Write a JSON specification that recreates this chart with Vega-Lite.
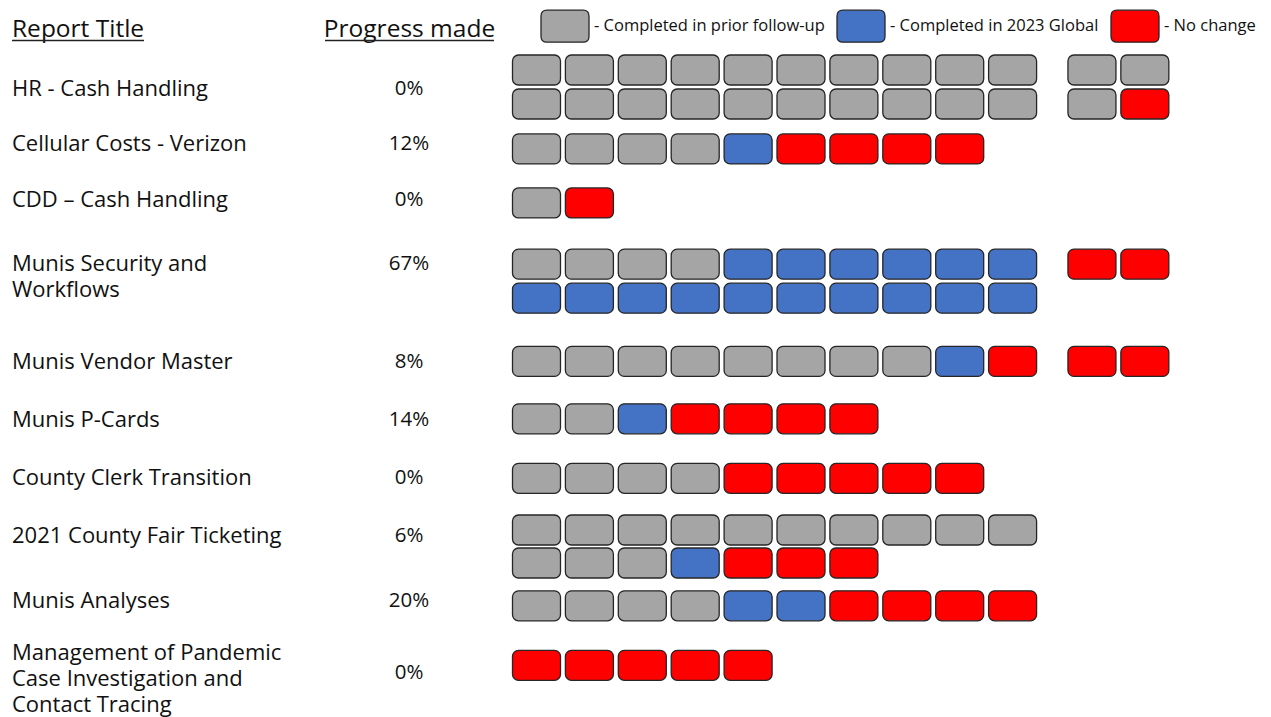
{
  "$schema": "https://vega.github.io/schema/vega-lite/v6.json",
  "width": 1271,
  "height": 717,
  "padding": 0,
  "autosize": {"type": "none"},
  "background": "white",
  "config": {"view": {"stroke": null}, "font": "Open Sans"},
  "datasets": {
    "reports": [
      {"title": "HR - Cash Handling", "progress": "0%", "title_line": 0.56, "pct_line": 0.56},
      {"title": "Cellular Costs - Verizon", "progress": "12%", "title_line": 2.18, "pct_line": 2.18},
      {"title": "CDD – Cash Handling", "progress": "0%", "title_line": 3.82, "pct_line": 3.82},
      {"title": "Munis Security and\nWorkflows", "progress": "67%", "title_line": 5.71, "pct_line": 5.71},
      {"title": "Munis Vendor Master", "progress": "8%", "title_line": 8.59, "pct_line": 8.59},
      {"title": "Munis P-Cards", "progress": "14%", "title_line": 10.29, "pct_line": 10.29},
      {"title": "County Clerk Transition", "progress": "0%", "title_line": 12.0, "pct_line": 12.0},
      {"title": "2021 County Fair Ticketing", "progress": "6%", "title_line": 13.71, "pct_line": 13.71},
      {"title": "Munis Analyses", "progress": "20%", "title_line": 15.62, "pct_line": 15.62},
      {"title": "Management of Pandemic\nCase Investigation and\nContact Tracing", "progress": "0%", "title_line": 17.15, "pct_line": 17.74}
    ],
    "boxes": [
      {"report": "HR - Cash Handling", "line": 0, "slot": 0, "status": "Completed in prior follow-up"},
      {"report": "HR - Cash Handling", "line": 0, "slot": 1, "status": "Completed in prior follow-up"},
      {"report": "HR - Cash Handling", "line": 0, "slot": 2, "status": "Completed in prior follow-up"},
      {"report": "HR - Cash Handling", "line": 0, "slot": 3, "status": "Completed in prior follow-up"},
      {"report": "HR - Cash Handling", "line": 0, "slot": 4, "status": "Completed in prior follow-up"},
      {"report": "HR - Cash Handling", "line": 0, "slot": 5, "status": "Completed in prior follow-up"},
      {"report": "HR - Cash Handling", "line": 0, "slot": 6, "status": "Completed in prior follow-up"},
      {"report": "HR - Cash Handling", "line": 0, "slot": 7, "status": "Completed in prior follow-up"},
      {"report": "HR - Cash Handling", "line": 0, "slot": 8, "status": "Completed in prior follow-up"},
      {"report": "HR - Cash Handling", "line": 0, "slot": 9, "status": "Completed in prior follow-up"},
      {"report": "HR - Cash Handling", "line": 0, "slot": 10.5, "status": "Completed in prior follow-up"},
      {"report": "HR - Cash Handling", "line": 0, "slot": 11.5, "status": "Completed in prior follow-up"},
      {"report": "HR - Cash Handling", "line": 1, "slot": 0, "status": "Completed in prior follow-up"},
      {"report": "HR - Cash Handling", "line": 1, "slot": 1, "status": "Completed in prior follow-up"},
      {"report": "HR - Cash Handling", "line": 1, "slot": 2, "status": "Completed in prior follow-up"},
      {"report": "HR - Cash Handling", "line": 1, "slot": 3, "status": "Completed in prior follow-up"},
      {"report": "HR - Cash Handling", "line": 1, "slot": 4, "status": "Completed in prior follow-up"},
      {"report": "HR - Cash Handling", "line": 1, "slot": 5, "status": "Completed in prior follow-up"},
      {"report": "HR - Cash Handling", "line": 1, "slot": 6, "status": "Completed in prior follow-up"},
      {"report": "HR - Cash Handling", "line": 1, "slot": 7, "status": "Completed in prior follow-up"},
      {"report": "HR - Cash Handling", "line": 1, "slot": 8, "status": "Completed in prior follow-up"},
      {"report": "HR - Cash Handling", "line": 1, "slot": 9, "status": "Completed in prior follow-up"},
      {"report": "HR - Cash Handling", "line": 1, "slot": 10.5, "status": "Completed in prior follow-up"},
      {"report": "HR - Cash Handling", "line": 1, "slot": 11.5, "status": "No change"},
      {"report": "Cellular Costs - Verizon", "line": 2.32, "slot": 0, "status": "Completed in prior follow-up"},
      {"report": "Cellular Costs - Verizon", "line": 2.32, "slot": 1, "status": "Completed in prior follow-up"},
      {"report": "Cellular Costs - Verizon", "line": 2.32, "slot": 2, "status": "Completed in prior follow-up"},
      {"report": "Cellular Costs - Verizon", "line": 2.32, "slot": 3, "status": "Completed in prior follow-up"},
      {"report": "Cellular Costs - Verizon", "line": 2.32, "slot": 4, "status": "Completed in 2023 Global"},
      {"report": "Cellular Costs - Verizon", "line": 2.32, "slot": 5, "status": "No change"},
      {"report": "Cellular Costs - Verizon", "line": 2.32, "slot": 6, "status": "No change"},
      {"report": "Cellular Costs - Verizon", "line": 2.32, "slot": 7, "status": "No change"},
      {"report": "Cellular Costs - Verizon", "line": 2.32, "slot": 8, "status": "No change"},
      {"report": "CDD – Cash Handling", "line": 3.91, "slot": 0, "status": "Completed in prior follow-up"},
      {"report": "CDD – Cash Handling", "line": 3.91, "slot": 1, "status": "No change"},
      {"report": "Munis Security and Workflows", "line": 5.71, "slot": 0, "status": "Completed in prior follow-up"},
      {"report": "Munis Security and Workflows", "line": 5.71, "slot": 1, "status": "Completed in prior follow-up"},
      {"report": "Munis Security and Workflows", "line": 5.71, "slot": 2, "status": "Completed in prior follow-up"},
      {"report": "Munis Security and Workflows", "line": 5.71, "slot": 3, "status": "Completed in prior follow-up"},
      {"report": "Munis Security and Workflows", "line": 5.71, "slot": 4, "status": "Completed in 2023 Global"},
      {"report": "Munis Security and Workflows", "line": 5.71, "slot": 5, "status": "Completed in 2023 Global"},
      {"report": "Munis Security and Workflows", "line": 5.71, "slot": 6, "status": "Completed in 2023 Global"},
      {"report": "Munis Security and Workflows", "line": 5.71, "slot": 7, "status": "Completed in 2023 Global"},
      {"report": "Munis Security and Workflows", "line": 5.71, "slot": 8, "status": "Completed in 2023 Global"},
      {"report": "Munis Security and Workflows", "line": 5.71, "slot": 9, "status": "Completed in 2023 Global"},
      {"report": "Munis Security and Workflows", "line": 5.71, "slot": 10.5, "status": "No change"},
      {"report": "Munis Security and Workflows", "line": 5.71, "slot": 11.5, "status": "No change"},
      {"report": "Munis Security and Workflows", "line": 6.71, "slot": 0, "status": "Completed in 2023 Global"},
      {"report": "Munis Security and Workflows", "line": 6.71, "slot": 1, "status": "Completed in 2023 Global"},
      {"report": "Munis Security and Workflows", "line": 6.71, "slot": 2, "status": "Completed in 2023 Global"},
      {"report": "Munis Security and Workflows", "line": 6.71, "slot": 3, "status": "Completed in 2023 Global"},
      {"report": "Munis Security and Workflows", "line": 6.71, "slot": 4, "status": "Completed in 2023 Global"},
      {"report": "Munis Security and Workflows", "line": 6.71, "slot": 5, "status": "Completed in 2023 Global"},
      {"report": "Munis Security and Workflows", "line": 6.71, "slot": 6, "status": "Completed in 2023 Global"},
      {"report": "Munis Security and Workflows", "line": 6.71, "slot": 7, "status": "Completed in 2023 Global"},
      {"report": "Munis Security and Workflows", "line": 6.71, "slot": 8, "status": "Completed in 2023 Global"},
      {"report": "Munis Security and Workflows", "line": 6.71, "slot": 9, "status": "Completed in 2023 Global"},
      {"report": "Munis Vendor Master", "line": 8.57, "slot": 0, "status": "Completed in prior follow-up"},
      {"report": "Munis Vendor Master", "line": 8.57, "slot": 1, "status": "Completed in prior follow-up"},
      {"report": "Munis Vendor Master", "line": 8.57, "slot": 2, "status": "Completed in prior follow-up"},
      {"report": "Munis Vendor Master", "line": 8.57, "slot": 3, "status": "Completed in prior follow-up"},
      {"report": "Munis Vendor Master", "line": 8.57, "slot": 4, "status": "Completed in prior follow-up"},
      {"report": "Munis Vendor Master", "line": 8.57, "slot": 5, "status": "Completed in prior follow-up"},
      {"report": "Munis Vendor Master", "line": 8.57, "slot": 6, "status": "Completed in prior follow-up"},
      {"report": "Munis Vendor Master", "line": 8.57, "slot": 7, "status": "Completed in prior follow-up"},
      {"report": "Munis Vendor Master", "line": 8.57, "slot": 8, "status": "Completed in 2023 Global"},
      {"report": "Munis Vendor Master", "line": 8.57, "slot": 9, "status": "No change"},
      {"report": "Munis Vendor Master", "line": 8.57, "slot": 10.5, "status": "No change"},
      {"report": "Munis Vendor Master", "line": 8.57, "slot": 11.5, "status": "No change"},
      {"report": "Munis P-Cards", "line": 10.26, "slot": 0, "status": "Completed in prior follow-up"},
      {"report": "Munis P-Cards", "line": 10.26, "slot": 1, "status": "Completed in prior follow-up"},
      {"report": "Munis P-Cards", "line": 10.26, "slot": 2, "status": "Completed in 2023 Global"},
      {"report": "Munis P-Cards", "line": 10.26, "slot": 3, "status": "No change"},
      {"report": "Munis P-Cards", "line": 10.26, "slot": 4, "status": "No change"},
      {"report": "Munis P-Cards", "line": 10.26, "slot": 5, "status": "No change"},
      {"report": "Munis P-Cards", "line": 10.26, "slot": 6, "status": "No change"},
      {"report": "County Clerk Transition", "line": 12.01, "slot": 0, "status": "Completed in prior follow-up"},
      {"report": "County Clerk Transition", "line": 12.01, "slot": 1, "status": "Completed in prior follow-up"},
      {"report": "County Clerk Transition", "line": 12.01, "slot": 2, "status": "Completed in prior follow-up"},
      {"report": "County Clerk Transition", "line": 12.01, "slot": 3, "status": "Completed in prior follow-up"},
      {"report": "County Clerk Transition", "line": 12.01, "slot": 4, "status": "No change"},
      {"report": "County Clerk Transition", "line": 12.01, "slot": 5, "status": "No change"},
      {"report": "County Clerk Transition", "line": 12.01, "slot": 6, "status": "No change"},
      {"report": "County Clerk Transition", "line": 12.01, "slot": 7, "status": "No change"},
      {"report": "County Clerk Transition", "line": 12.01, "slot": 8, "status": "No change"},
      {"report": "2021 County Fair Ticketing", "line": 13.53, "slot": 0, "status": "Completed in prior follow-up"},
      {"report": "2021 County Fair Ticketing", "line": 13.53, "slot": 1, "status": "Completed in prior follow-up"},
      {"report": "2021 County Fair Ticketing", "line": 13.53, "slot": 2, "status": "Completed in prior follow-up"},
      {"report": "2021 County Fair Ticketing", "line": 13.53, "slot": 3, "status": "Completed in prior follow-up"},
      {"report": "2021 County Fair Ticketing", "line": 13.53, "slot": 4, "status": "Completed in prior follow-up"},
      {"report": "2021 County Fair Ticketing", "line": 13.53, "slot": 5, "status": "Completed in prior follow-up"},
      {"report": "2021 County Fair Ticketing", "line": 13.53, "slot": 6, "status": "Completed in prior follow-up"},
      {"report": "2021 County Fair Ticketing", "line": 13.53, "slot": 7, "status": "Completed in prior follow-up"},
      {"report": "2021 County Fair Ticketing", "line": 13.53, "slot": 8, "status": "Completed in prior follow-up"},
      {"report": "2021 County Fair Ticketing", "line": 13.53, "slot": 9, "status": "Completed in prior follow-up"},
      {"report": "2021 County Fair Ticketing", "line": 14.5, "slot": 0, "status": "Completed in prior follow-up"},
      {"report": "2021 County Fair Ticketing", "line": 14.5, "slot": 1, "status": "Completed in prior follow-up"},
      {"report": "2021 County Fair Ticketing", "line": 14.5, "slot": 2, "status": "Completed in prior follow-up"},
      {"report": "2021 County Fair Ticketing", "line": 14.5, "slot": 3, "status": "Completed in 2023 Global"},
      {"report": "2021 County Fair Ticketing", "line": 14.5, "slot": 4, "status": "No change"},
      {"report": "2021 County Fair Ticketing", "line": 14.5, "slot": 5, "status": "No change"},
      {"report": "2021 County Fair Ticketing", "line": 14.5, "slot": 6, "status": "No change"},
      {"report": "Munis Analyses", "line": 15.76, "slot": 0, "status": "Completed in prior follow-up"},
      {"report": "Munis Analyses", "line": 15.76, "slot": 1, "status": "Completed in prior follow-up"},
      {"report": "Munis Analyses", "line": 15.76, "slot": 2, "status": "Completed in prior follow-up"},
      {"report": "Munis Analyses", "line": 15.76, "slot": 3, "status": "Completed in prior follow-up"},
      {"report": "Munis Analyses", "line": 15.76, "slot": 4, "status": "Completed in 2023 Global"},
      {"report": "Munis Analyses", "line": 15.76, "slot": 5, "status": "Completed in 2023 Global"},
      {"report": "Munis Analyses", "line": 15.76, "slot": 6, "status": "No change"},
      {"report": "Munis Analyses", "line": 15.76, "slot": 7, "status": "No change"},
      {"report": "Munis Analyses", "line": 15.76, "slot": 8, "status": "No change"},
      {"report": "Munis Analyses", "line": 15.76, "slot": 9, "status": "No change"},
      {"report": "Management of Pandemic Case Investigation and Contact Tracing", "line": 17.51, "slot": 0, "status": "No change"},
      {"report": "Management of Pandemic Case Investigation and Contact Tracing", "line": 17.51, "slot": 1, "status": "No change"},
      {"report": "Management of Pandemic Case Investigation and Contact Tracing", "line": 17.51, "slot": 2, "status": "No change"},
      {"report": "Management of Pandemic Case Investigation and Contact Tracing", "line": 17.51, "slot": 3, "status": "No change"},
      {"report": "Management of Pandemic Case Investigation and Contact Tracing", "line": 17.51, "slot": 4, "status": "No change"}
    ]
  },
  "layer": [
    {
      "data": {"name": "boxes"},
      "mark": {"type": "rect", "width": 48, "height": 30, "cornerRadius": 6, "stroke": "#262626", "strokeWidth": 1.3},
      "encoding": {
        "x": {"field": "slot", "type": "quantitative", "axis": null, "scale": {"domain": [-10.1418, 13.8847], "nice": false, "zero": false}},
        "y": {"field": "line", "type": "quantitative", "axis": null, "scale": {"domain": [-2.0588, 19.0294], "nice": false, "zero": false, "reverse": true}},
        "color": {
          "field": "status",
          "type": "nominal",
          "scale": {"domain": ["Completed in prior follow-up", "Completed in 2023 Global", "No change"], "range": ["#A5A5A5", "#4472C4", "#FF0000"]},
          "legend": {
            "title": null,
            "orient": "none",
            "direction": "horizontal",
            "legendX": 540,
            "legendY": 1,
            "symbolType": "M-0.75,-0.6667L0.75,-0.6667Q1,-0.6667,1,-0.4167L1,0.4167Q1,0.6667,0.75,0.6667L-0.75,0.6667Q-1,0.6667,-1,0.4167L-1,-0.4167Q-1,-0.6667,-0.75,-0.6667Z",
            "symbolSize": 2304,
            "symbolStrokeColor": "#262626",
            "symbolStrokeWidth": 1.3,
            "symbolOpacity": 1,
            "labelFont": "Open Sans",
            "labelFontSize": 16.5,
            "labelColor": "#111111",
            "labelOffset": 4,
            "labelLimit": 0,
            "columnPadding": 9,
            "labelExpr": "'- ' + datum.label"
          }
        }
      }
    },
    {
      "data": {"name": "reports"},
      "mark": {"type": "text", "align": "left", "baseline": "middle", "font": "Open Sans", "fontSize": 22, "lineBreak": "\n", "lineHeight": 26, "color": "#111111"},
      "encoding": {
        "x": {"datum": -9.915, "type": "quantitative", "scale": {"domain": [-10.1418, 13.8847], "nice": false, "zero": false}},
        "y": {"field": "title_line", "type": "quantitative", "scale": {"domain": [-2.0588, 19.0294], "nice": false, "zero": false, "reverse": true}},
        "text": {"field": "title", "type": "nominal"}
      }
    },
    {
      "data": {"name": "reports"},
      "mark": {"type": "text", "align": "center", "baseline": "middle", "font": "Open Sans", "fontSize": 20.5, "color": "#111111"},
      "encoding": {
        "x": {"datum": -2.41, "type": "quantitative", "scale": {"domain": [-10.1418, 13.8847], "nice": false, "zero": false}},
        "y": {"field": "pct_line", "type": "quantitative", "scale": {"domain": [-2.0588, 19.0294], "nice": false, "zero": false, "reverse": true}},
        "text": {"field": "progress", "type": "nominal"}
      }
    },
    {
      "data": {"values": [{"header": "Report Title"}]},
      "mark": {"type": "text", "align": "left", "baseline": "alphabetic", "font": "Open Sans", "fontSize": 24.5, "color": "#111111"},
      "encoding": {
        "x": {"datum": -9.915, "type": "quantitative", "scale": {"domain": [-10.1418, 13.8847], "nice": false, "zero": false}},
        "y": {"datum": -0.956, "type": "quantitative", "scale": {"domain": [-2.0588, 19.0294], "nice": false, "zero": false, "reverse": true}},
        "text": {"field": "header", "type": "nominal"}
      }
    },
    {
      "data": {"values": [{"header": "Progress made"}]},
      "mark": {"type": "text", "align": "center", "baseline": "alphabetic", "font": "Open Sans", "fontSize": 24.5, "color": "#111111"},
      "encoding": {
        "x": {"datum": -2.401, "type": "quantitative", "scale": {"domain": [-10.1418, 13.8847], "nice": false, "zero": false}},
        "y": {"datum": -0.956, "type": "quantitative", "scale": {"domain": [-2.0588, 19.0294], "nice": false, "zero": false, "reverse": true}},
        "text": {"field": "header", "type": "nominal"}
      }
    },
    {
      "data": {"values": [{"header": "Report Title", "start": -9.915, "end": -7.42}, {"header": "Progress made", "start": -3.998, "end": -0.803}]},
      "mark": {"type": "rule", "color": "#222222", "strokeWidth": 1.6},
      "encoding": {
        "x": {"field": "start", "type": "quantitative", "scale": {"domain": [-10.1418, 13.8847], "nice": false, "zero": false}},
        "x2": {"field": "end"},
        "y": {"datum": -0.868, "type": "quantitative", "scale": {"domain": [-2.0588, 19.0294], "nice": false, "zero": false, "reverse": true}}
      }
    }
  ]
}
